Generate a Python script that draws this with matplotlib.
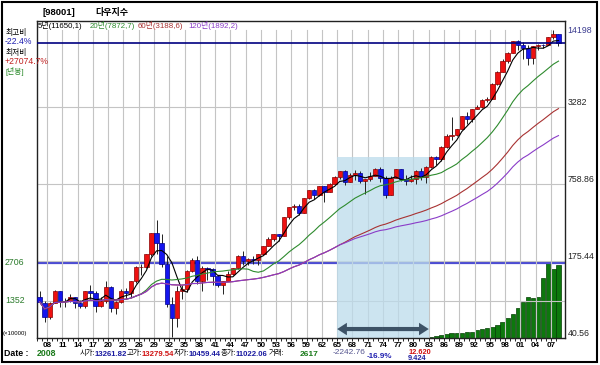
import matplotlib
matplotlib.use('Agg')
import matplotlib.pyplot as plt
import matplotlib.transforms as mtransforms
from matplotlib.patches import Rectangle, FancyArrowPatch
import numpy as np
import pandas as pd

plt.rcParams['font.family'] = ['Liberation Sans', 'Noto Sans CJK KR', 'DejaVu Sans']

# yearly candles, 1906 - 2008
years = np.arange(1906, 2009)
opens = [89, 79, 60, 79, 99, 81.4, 81.7, 87.9, 78.8, 74.0,
         99.2, 95.0, 74.4, 82.2, 107.2, 72.0, 81.1, 98.7, 95.5, 120.5,
         156.7, 157.2, 202.4, 300.0, 248.5, 164.6, 77.9, 59.9, 99.9, 104.0,
         144.1, 179.9, 120.9, 154.8, 150.2, 131.1, 111.0, 119.4, 135.9, 152.3,
         192.9, 177.2, 181.2, 177.3, 200.1, 235.4, 269.2, 291.9, 280.9, 404.4,
         488.4, 499.5, 435.7, 583.7, 679.4, 615.9, 731.1, 652.1, 763.0, 874.1,
         969.3, 785.7, 905.1, 943.8, 800.4, 838.9, 890.2, 1020.0, 850.9, 616.2,
         852.4, 1004.7, 831.2, 805.0, 838.7, 964.0, 875.0, 1046.5, 1258.6, 1211.6,
         1546.7, 1896.0, 1938.8, 2168.6, 2753.2, 2633.7, 3168.8, 3301.1, 3754.1, 3834.4,
         5117.1, 6448.3, 7908.3, 9181.4, 11497.1, 10786.9, 10021.5, 8341.6, 10453.9, 10783.0,
         10717.5, 12463.2, 13261.8]
highs = [99.6, 82, 80, 100.5, 99.5, 87.1, 94.2, 88.6, 83.4, 99.2,
         110.2, 99.2, 89.1, 119.6, 109.9, 81.5, 103.4, 105.4, 120.5, 159.4,
         166.6, 202.4, 300.0, 381.2, 294.1, 194.4, 88.8, 108.7, 110.7, 148.4,
         184.9, 194.4, 158.4, 155.9, 152.8, 133.6, 119.7, 145.8, 152.5, 195.8,
         212.5, 186.9, 193.2, 200.5, 235.5, 276.4, 292.0, 293.8, 404.4, 488.4,
         521.1, 520.8, 583.7, 679.4, 685.5, 734.9, 731.1, 767.2, 891.7, 969.3,
         995.2, 943.1, 985.2, 968.9, 842.0, 950.8, 1036.3, 1051.7, 891.7, 881.8,
         1014.8, 1004.7, 907.7, 897.6, 1000.2, 1024.1, 1070.6, 1287.2, 1286.6, 1553.1,
         1955.6, 2722.4, 2183.5, 2791.4, 2999.8, 3168.8, 3413.2, 3794.3, 3978.4, 5216.5,
         6560.9, 8259.3, 9374.3, 11497.1, 11723.0, 11337.9, 10635.3, 10453.9, 10854.5, 10940.6,
         12510.6, 14198.1, 13279.5]
lows = [80, 55, 58, 79, 73.6, 72.9, 80.2, 72.1, 71.4, 72.0,
        85.0, 66.0, 73.4, 79.2, 66.8, 63.9, 78.6, 85.8, 88.3, 115.0,
        135.2, 152.7, 191.3, 198.7, 157.5, 73.8, 41.2, 50.2, 85.5, 96.7,
        143.1, 113.6, 99.0, 121.4, 111.8, 106.3, 92.9, 119.3, 134.2, 151.4,
        163.1, 163.2, 165.4, 161.6, 196.8, 235.4, 256.4, 255.5, 279.9, 388.2,
        462.4, 419.8, 435.7, 574.5, 566.1, 610.3, 535.8, 646.8, 763.0, 840.6,
        744.3, 785.7, 825.1, 769.9, 631.2, 798.0, 889.2, 788.3, 577.6, 616.2,
        852.4, 800.9, 742.1, 796.7, 759.1, 824.0, 776.9, 1027.0, 1086.6, 1185.0,
        1502.3, 1738.7, 1879.1, 2144.6, 2365.1, 2470.3, 3136.6, 3242.0, 3593.4, 3832.1,
        5032.9, 6391.7, 7539.1, 9120.7, 9796.0, 8235.8, 7286.3, 7524.1, 9750.0, 10012.4,
        10667.4, 11939.6, 10459.4]
closes = [81, 60, 79, 99, 81.4, 81.7, 87.9, 78.8, 74.0, 99.2,
          95.0, 74.4, 82.2, 107.2, 72.0, 81.1, 98.7, 95.5, 120.5, 156.7,
          157.2, 202.4, 300.0, 248.5, 164.6, 77.9, 59.9, 99.9, 104.0, 144.1,
          179.9, 120.9, 154.8, 150.2, 131.1, 111.0, 119.4, 135.9, 152.3, 192.9,
          177.2, 181.2, 177.3, 200.1, 235.4, 269.2, 291.9, 280.9, 404.4, 488.4,
          499.5, 435.7, 583.7, 679.4, 615.9, 731.1, 652.1, 763.0, 874.1, 969.3,
          785.7, 905.1, 943.8, 800.4, 838.9, 890.2, 1020.0, 850.9, 616.2, 852.4,
          1004.7, 831.2, 805.0, 838.7, 964.0, 875.0, 1046.5, 1258.6, 1211.6, 1546.7,
          1896.0, 1938.8, 2168.6, 2753.2, 2633.7, 3168.8, 3301.1, 3754.1, 3834.4, 5117.1,
          6448.3, 7908.3, 9181.4, 11497.1, 10786.9, 10021.5, 8341.6, 10453.9, 10783.0, 10717.5,
          12463.2, 13264.8, 11022.1]

# volume (x10000)
vol_years = np.arange(1983, 2009)
volumes = [40, 70, 100, 140, 170, 180, 191, 206, 227, 289,
           314, 350, 386, 469, 588, 711, 866, 1072, 1310, 1468,
           1432, 1468, 2165, 2706, 2500, 2617]

tick_years = np.arange(1908, 2008, 3)
tick_labels = ['%02d' % (y % 100) for y in tick_years]

price_levels = [40.56, 175.44, 758.86, 3282, 14198]
price_labels = ['40.56', '175.44', '758.86', '3282', '14198']
vol_levels = [1352, 2706]

ma_windows = [5, 20, 60, 120]
ma_labels = ['5년(11650,1)', '20년(7872,7)', '60년(3188,6)', '120년(1892,2)']
ma_colors = ['#000000', '#2e8b2e', '#a83232', '#8a3cc8']

# period box 1965 - 1983
box_x = (1964.5, 1982.5)
box_top = 1260

W, H = 600, 365
fig = plt.figure(figsize=(6, 3.65), dpi=100)


def fx(px):
    return px / W


def fy(py):
    return 1 - py / H


rect = [fx(37), fy(338), fx(565) - fx(37), fy(20.7) - fy(338)]
axv = fig.add_axes(rect)
ax = fig.add_axes(rect, sharex=axv)
ax.patch.set_visible(False)

ax.set_xlim(1905.61, 2009.28)
ax.set_yscale('log')
ax.set_ylim(40.56, 16990)
axv.set_ylim(0, 11448)
axv.axis('off')

grid_c = '#c4c4c4'
# vertical grid
for t in tick_years - 0.5:
    ax.axvline(t, ymax=0.9707, color=grid_c, lw=0.8, zorder=0.5)
for v in price_levels[1:4]:
    ax.axhline(v, color=grid_c, lw=0.8, zorder=0.5)
axv.axhline(vol_levels[0], color=grid_c, lw=0.8)

# shaded period
ax.add_patch(Rectangle((box_x[0], 40.56), box_x[1] - box_x[0], box_top - 40.56,
                       facecolor='#bcdcec', alpha=0.75, lw=0, zorder=0.6))

# volume
axv.bar(vol_years, volumes, width=0.85, color='#0d780d', edgecolor='#033d03', lw=0.5)
axv.axhline(max(volumes), color='#4c4cd2', lw=1.6)

# candles
o = np.array(opens)
c = np.array(closes)
up = c >= o
body_col = np.where(up, '#ee1111', '#1515ee')
edge_col = np.where(up, '#8a0000', '#00008a')
ax.vlines(years, lows, highs, color='#222222', lw=0.7, zorder=2)
ax.bar(years, np.abs(c - o), bottom=np.minimum(o, c), width=0.85,
       color=body_col, edgecolor=edge_col, lw=0.5, zorder=3)

# moving averages
s = pd.Series(closes)
for w, col in zip(ma_windows, ma_colors):
    ax.plot(years, s.rolling(w, min_periods=1).mean(), color=col, lw=0.8, zorder=4)

ax.axhline(closes[-1], color='#000080', lw=1.2, zorder=5)

# arrow over the box
mid = (box_x[0] + box_x[1]) / 2
for end in box_x:
    ax.add_patch(FancyArrowPatch((mid, 48.1), (end, 48.1),
                                 arrowstyle='simple,head_length=0.7,head_width=0.9,tail_width=0.3',
                                 mutation_scale=10, shrinkA=0, shrinkB=0,
                                 color='#3d5266', lw=0, zorder=6))

# axes styling
ax.set_xticks(tick_years - 0.5)
ax.set_xticklabels(tick_labels, fontsize=5.8, fontweight='bold')
ax.set_xticks(years - 0.5, minor=True)
ax.tick_params(axis='x', which='both', length=2, pad=0.6, width=0.6)
ax.yaxis.set_major_locator(plt.NullLocator())
ax.yaxis.set_minor_locator(plt.NullLocator())
for sp in ax.spines.values():
    sp.set_color('#222222')
    sp.set_linewidth(1)

tr = mtransforms.blended_transform_factory(ax.transAxes, ax.transData)
for v, lab in zip(price_levels, price_labels):
    ax.text(1.005, v, lab, transform=tr, fontsize=6.3,
            ha='left', va='center' if v == price_levels[-1] else 'bottom',
            color='#3c3c90' if v == price_levels[-1] else '#222222')

trv = mtransforms.blended_transform_factory(axv.transAxes, axv.transData)
for v in vol_levels:
    axv.text(-0.061, v, str(v), transform=trv, fontsize=6.3, ha='left', va='center',
             color='#2a7a2a')

# legend band
lx = [38, 90, 138, 188]
for x, lab, col in zip(lx, ma_labels, ma_colors):
    fig.text(fx(x), fy(25.5), lab, fontsize=5.7, color=col, va='center')

# title and left info
fig.text(fx(42), fy(12.7), '[98001]', fontsize=6.8, fontweight='bold', va='center')
fig.text(fx(95), fy(12.7), '다우지수', fontsize=6.5, fontweight='bold', va='center')
fig.text(fx(6), fy(33), '최고비', fontsize=5.6, va='center')
fig.text(fx(5), fy(41.5), '-22.4%', fontsize=6.2, color='#2020b0', va='center')
fig.text(fx(6), fy(53), '최저비', fontsize=5.6, va='center')
fig.text(fx(5), fy(61.5), '+27074.7%', fontsize=6.2, color='#c02020', va='center')
fig.text(fx(6), fy(71), '[년봉]', fontsize=5.6, color='#2a8a2a', va='center')
fig.text(fx(3), fy(334), '(×10000)', fontsize=4.3, va='center')

# bottom info line
yb = fy(354)
fig.text(fx(4), yb, 'Date :', fontsize=6.3, fontweight='bold', va='center')
fig.text(fx(37), yb, '2008', fontsize=6.3, fontweight='bold', color='#1a7a1a', va='center')
info = [('시가:', '13261.82', '#1a1aa0'), ('고가:', '13279.54', '#d01010'),
        ('저가:', '10459.44', '#1a1aa0'), ('종가:', '11022.06', '#1a1aa0')]
for i, (lab, val, col) in enumerate(info):
    x0 = 80 + i * 47
    fig.text(fx(x0), yb, lab, fontsize=5.3, va='center')
    fig.text(fx(x0 + 15), yb, val, fontsize=5.6, fontweight='bold', color=col, va='center')
fig.text(fx(269), yb, '거래:', fontsize=5.3, va='center')
fig.text(fx(300), yb, '2617', fontsize=6, fontweight='bold', color='#1a7a1a', va='center')
fig.text(fx(333), fy(353), '-2242.76', fontsize=6.0, color='#55558f', va='center')
fig.text(fx(367), fy(356.5), '-16.9%', fontsize=5.8, fontweight='bold', color='#2020b0', va='center')
fig.text(fx(408), fy(352), '12.620', fontsize=5.3, fontweight='bold', color='#d01010', va='center')
fig.text(fx(408), fy(358.2), '9.424', fontsize=5.3, fontweight='bold', color='#2020a0', va='center')

fig.add_artist(Rectangle((fx(2), fy(361.5)), fx(595), fy(2) - fy(361.5), transform=fig.transFigure,
                         fill=False, edgecolor='black', lw=1.5))

fig.savefig('out.png', dpi=100)
